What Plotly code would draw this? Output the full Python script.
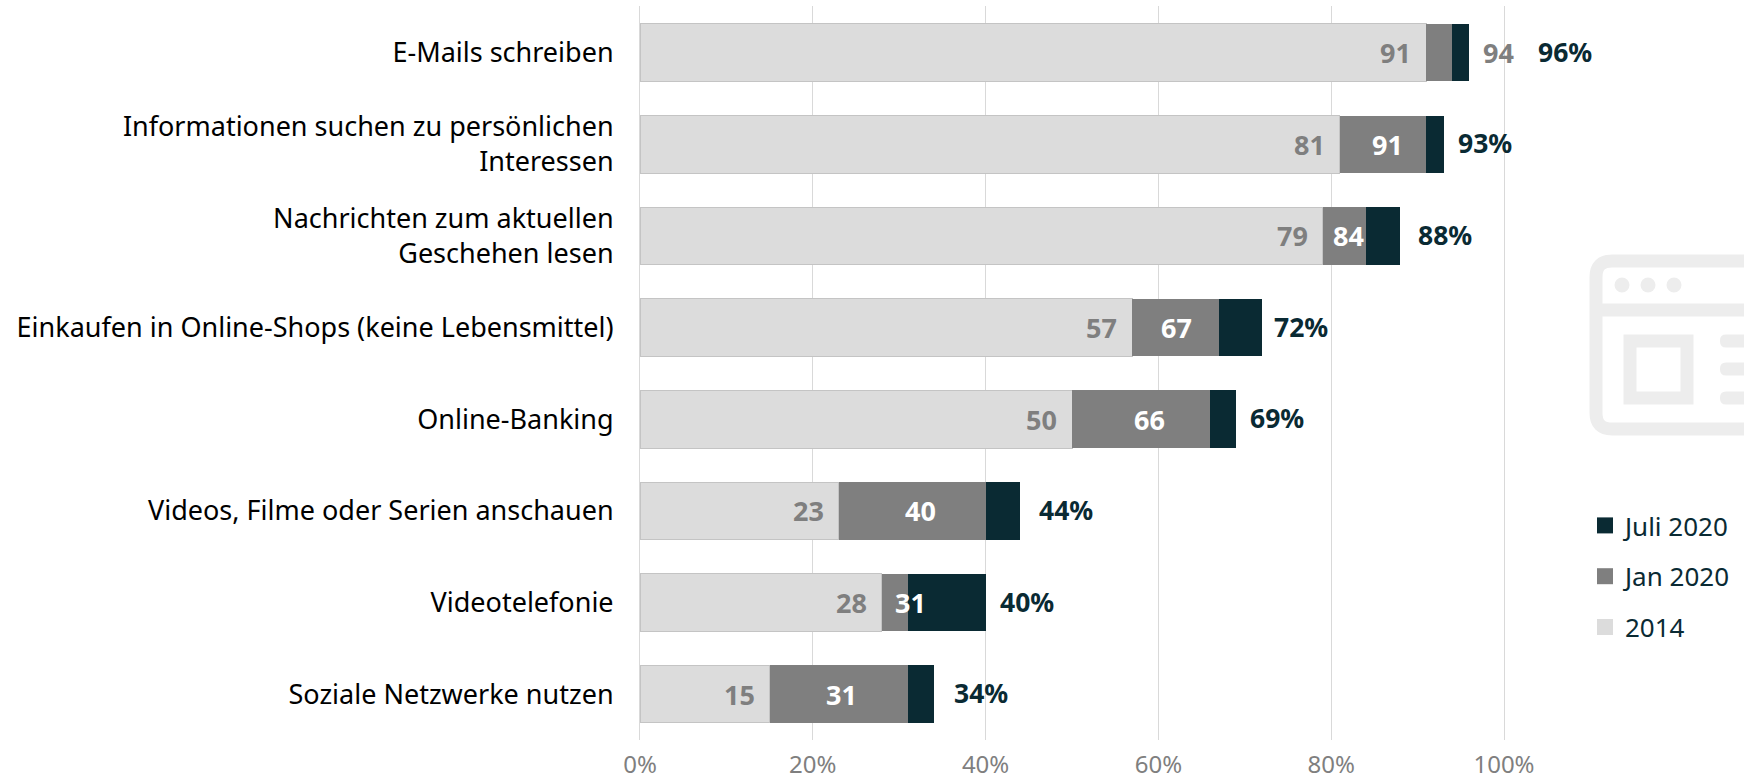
import plotly.graph_objects as go

categories = ["E-Mails schreiben", "Informationen suchen zu persönlichen<br>Interessen",
              "Nachrichten zum aktuellen<br>Geschehen lesen",
              "Einkaufen in Online-Shops (keine Lebensmittel)", "Online-Banking",
              "Videos, Filme oder Serien anschauen", "Videotelefonie", "Soziale Netzwerke nutzen"]
v2014 = [91, 81, 79, 57, 50, 23, 28, 15]
jan2020 = [94, 91, 84, 67, 66, 40, 31, 31]
jul2020 = [96, 93, 88, 72, 69, 44, 40, 34]
x_ticks = [0, 20, 40, 60, 80, 100]
x_labels = ["0%", "20%", "40%", "60%", "80%", "100%"]
jan_shift = [59, 4, 4, 1, 8, 8, 16, 3]
total_shift = [67, 12, 16, 10, 12, 17, 12, 18]

W, H = 1744, 780
L, R, T, B = 640, 0, 6, 40
FONT = "Noto Sans"
C_L, C_M, C_D = "#dcdcdc", "#7f7f7f", "#0a2a33"

seg_mid = [b - a for a, b in zip(v2014, jan2020)]
seg_top = [b - a for a, b in zip(jan2020, jul2020)]

fig = go.Figure()
common = dict(orientation="h", y=categories, showlegend=False, hoverinfo="skip")
fig.add_bar(x=v2014, marker=dict(color=C_L, line=dict(color="#c4c4c4", width=1)), name="2014", **common)
fig.add_bar(x=seg_mid, marker=dict(color=C_M, line=dict(width=0)), name="Jan 2020 Segment", **common)
fig.add_bar(x=seg_top, marker=dict(color=C_D, line=dict(width=0)), name="Juli 2020 Segment", **common)

for name, col, g in [("Juli 2020", C_D, "a"), ("Jan 2020", C_M, "b"), ("2014", C_L, "c")]:
    fig.add_scatter(x=[None], y=[categories[0]], mode="markers", name=name, legendgroup=g,
                    marker=dict(symbol="square", size=16, color=col), hoverinfo="skip")

anns = []
for i, c in enumerate(categories):
    anns.append(dict(x=v2014[i], y=c, text=f"<b>{v2014[i]}</b>", showarrow=False, xanchor="right",
                     xshift=-13, yshift=0, font=dict(family=FONT, size=27, color=C_M)))
    anns.append(dict(x=(v2014[i] + jan2020[i]) / 2, y=c, text=f"<b>{jan2020[i]}</b>", showarrow=False,
                     xanchor="center", xshift=jan_shift[i], yshift=0,
                     font=dict(family=FONT, size=27, color=C_M if i == 0 else "white")))
    anns.append(dict(x=jul2020[i], y=c, text=f"<b>{jul2020[i]}%</b>", showarrow=False, xanchor="left",
                     xshift=total_shift[i], yshift=1, font=dict(family=FONT, size=26.5, color=C_D)))

# decorative browser-window icon, clipped by the right page edge
def px(x): return (x - L) / (W - L - R)
def py(y): return 1 - (y - T) / (H - T - B)
def rrect(x0, y0, x1, y1, r):
    pts = [("M", x0 + r, y0), ("L", x1 - r, y0), ("Q", x1, y0, x1, y0 + r), ("L", x1, y1 - r),
           ("Q", x1, y1, x1 - r, y1), ("L", x0 + r, y1), ("Q", x0, y1, x0, y1 - r), ("L", x0, y0 + r),
           ("Q", x0, y0, x0 + r, y0)]
    out = []
    for p in pts:
        if p[0] == "Q":
            out.append(f"Q{px(p[1]):.5f},{py(p[2]):.5f} {px(p[3]):.5f},{py(p[4]):.5f}")
        else:
            out.append(f"{p[0]}{px(p[1]):.5f},{py(p[2]):.5f}")
    return " ".join(out) + " Z"
ICON = "#ededed"
base = dict(layer="below", xref="paper", yref="paper")
shapes = [
    dict(type="path", path=rrect(1596, 261, 1790, 429, 16), line=dict(color=ICON, width=13), fillcolor="rgba(0,0,0,0)", **base),
    dict(type="line", x0=px(1596), x1=px(1760), y0=py(310), y1=py(310), line=dict(color=ICON, width=13), **base),
    dict(type="rect", x0=px(1630), x1=px(1687), y0=py(341), y1=py(398), line=dict(color=ICON, width=13), fillcolor="rgba(0,0,0,0)", **base),
]
for cx in (1622, 1648, 1674):
    shapes.append(dict(type="circle", x0=px(cx - 7.5), x1=px(cx + 7.5), y0=py(285 - 7.5), y1=py(285 + 7.5),
                       fillcolor=ICON, line=dict(width=0), **base))
for cy in (341, 369, 398):
    shapes.append(dict(type="path", path=rrect(1720, cy - 6.5, 1790, cy + 6.5, 6), fillcolor=ICON, line=dict(width=0), **base))

fig.update_layout(
    width=W, height=H, margin=dict(l=L, r=R, t=T, b=B, pad=0), barmode="stack", bargap=0.372,
    paper_bgcolor="white", plot_bgcolor="rgba(0,0,0,0)", font=dict(family=FONT, color="black"),
    annotations=anns, shapes=shapes,
    legend=dict(x=px(1585), y=py(502), xanchor="left", yanchor="top", traceorder="grouped",
                tracegroupgap=14, font=dict(family=FONT, size=26, color=C_D), bgcolor="rgba(0,0,0,0)",
                itemclick=False, itemdoubleclick=False),
    xaxis=dict(range=[0, (W - L - R) / 8.64], tickvals=x_ticks, ticktext=x_labels, showgrid=True, automargin=False,
               gridcolor="#d9d9d9", gridwidth=1, zeroline=False, showline=False,
               ticks="outside", ticklen=3, tickcolor="rgba(0,0,0,0)",
               tickfont=dict(family=FONT, size=24, color=C_M)),
    yaxis=dict(categoryorder="array", categoryarray=categories[::-1], showline=True, linecolor="#d9d9d9", automargin=False,
               ticks="outside", ticklen=20, tickcolor="rgba(0,0,0,0)", tickfont=dict(family=FONT, size=27, color="black")),
)
fig.write_html("out.html", config={"displayModeBar": False},
               post_script="document.body.style.margin='0';")
